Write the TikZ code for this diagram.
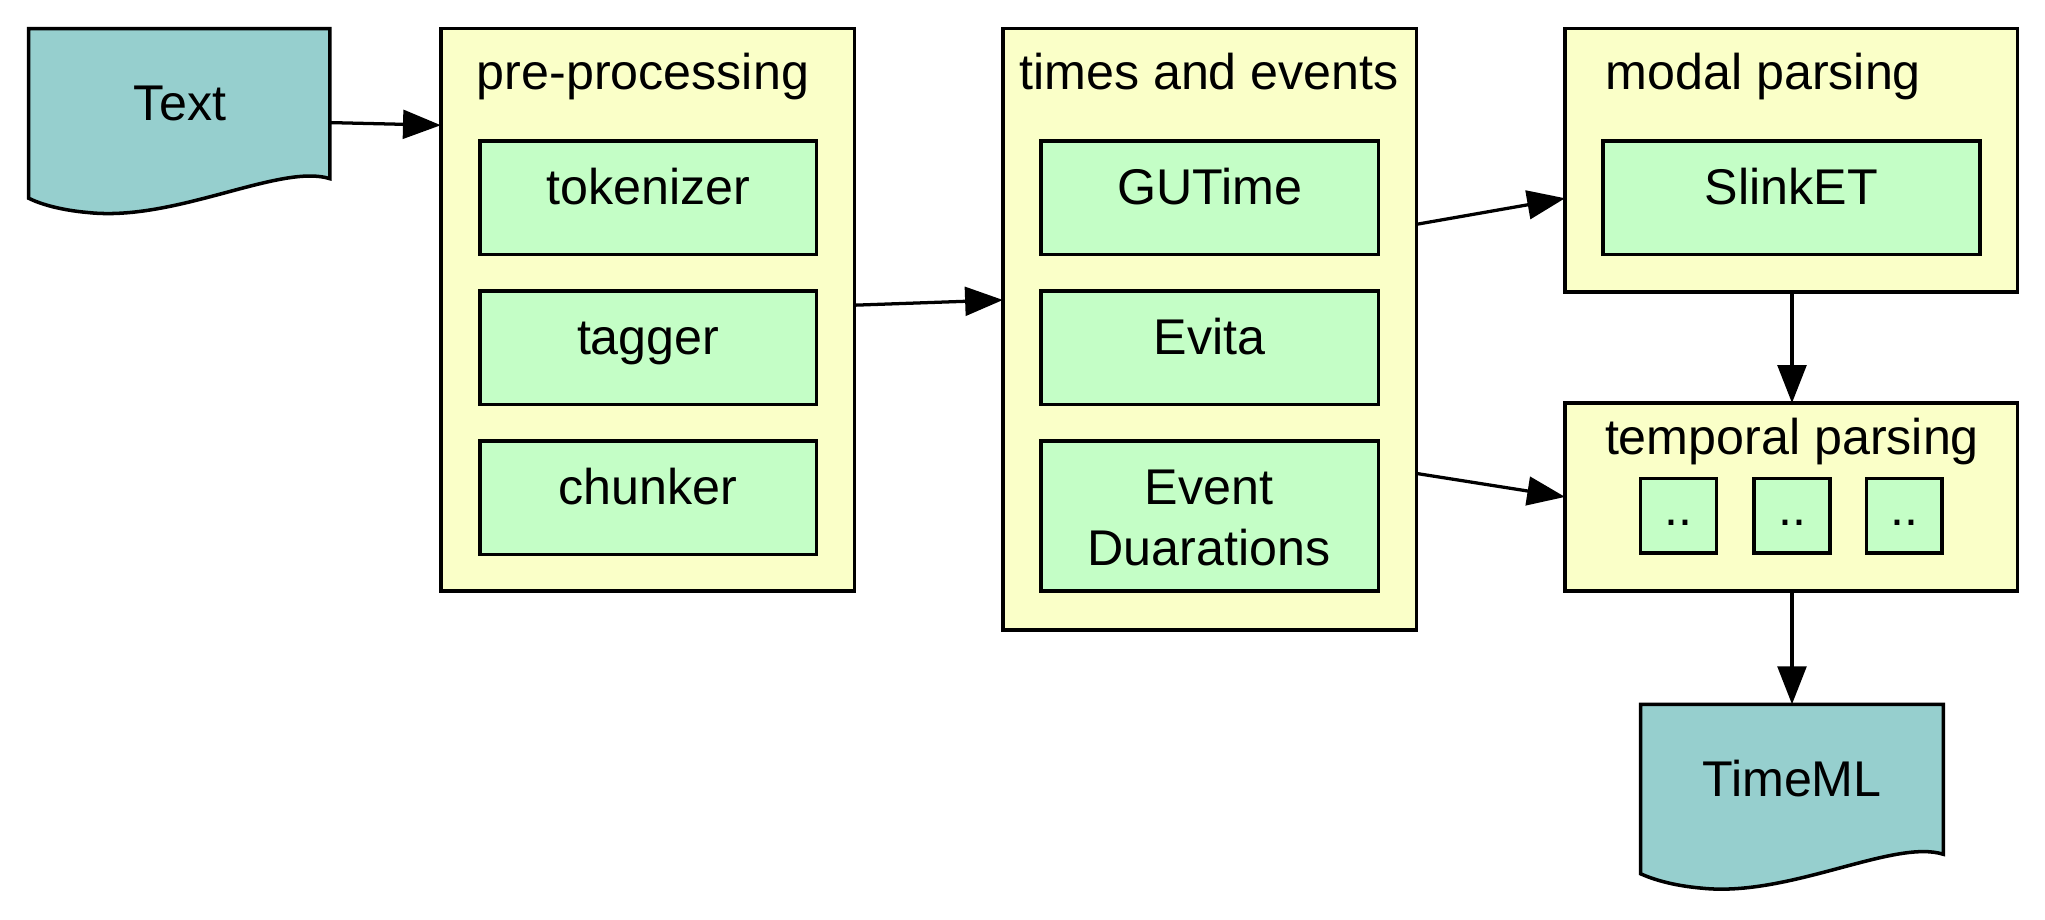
\documentclass[tikz,border=0pt]{standalone}
\usepackage{fontspec}
\setmainfont{Liberation Sans}
\usetikzlibrary{arrows.meta}
\definecolor{docfill}{HTML}{96CFCE}
\definecolor{clfill}{HTML}{FAFFC8}
\definecolor{boxfill}{HTML}{C4FEC6}
\tikzset{
  cluster/.style={draw=black, line width=2.7pt, fill=clfill, rectangle, anchor=north west, inner sep=0pt, outer sep=0pt},
  stage/.style={draw=black, line width=2.7pt, fill=boxfill, rectangle, anchor=north west, inner sep=0pt, outer sep=0pt},
  doc/.style={draw=black, line width=2.7pt, fill=docfill, line join=miter},
  lblfree/.style={inner sep=0pt, font=\fontsize{38.5}{47}\selectfont, align=center},
  lbl/.style={lblfree, text height=0.75em, text depth=0.25em},
  edge/.style={line width=2.5pt, -{Triangle[length=29pt,width=22pt]}},
}
\begin{document}
\begin{tikzpicture}[x=1pt, y=-1pt]
\useasboundingbox (0,0) rectangle (1568,705);
% Text document
\draw[doc] (22,22) -- (253,22) -- (253,137) .. controls (215,125) and (135,170) .. (68,163) .. controls (45,161) and (30,156) .. (22,152) -- cycle;
\node[inner sep=0pt, minimum width=231pt, minimum height=116pt, anchor=north west] (txt) at (22,22) {};
\node[lbl] (txtl) at (138,90) {Text};
% pre-processing
\node[cluster, minimum width=317pt, minimum height=431pt] (pre) at (338,22) {};
\node[lbl] (prel) at (493,66) {pre-processing};
\node[stage, minimum width=258pt, minimum height=87pt] (tok) at (368,108) {};
\node[lbl, yshift=-3pt] at (tok.center) {tokenizer};
\node[stage, minimum width=258pt, minimum height=87pt] (tag) at (368,223) {};
\node[lbl, yshift=-3pt] at (tag.center) {tagger};
\node[stage, minimum width=258pt, minimum height=87pt] (chu) at (368,338) {};
\node[lbl, yshift=-3pt] at (chu.center) {chunker};
% times and events
\node[cluster, minimum width=317pt, minimum height=461pt] (tae) at (769,22) {};
\node[lbl] (tael) at (927,66) {times and events};
\node[stage, minimum width=259pt, minimum height=87pt] (gut) at (798,108) {};
\node[lbl, yshift=-3pt] at (gut.center) {GUTime};
\node[stage, minimum width=259pt, minimum height=87pt] (evi) at (798,223) {};
\node[lbl, yshift=-3pt] at (evi.center) {Evita};
\node[stage, minimum width=259pt, minimum height=115pt] (evd) at (798,338) {};
\node[lblfree] at (927,397) {Event\\Duarations};
% modal parsing
\node[cluster, minimum width=347pt, minimum height=202pt] (mod) at (1200,22) {};
\node[lbl] (modl) at (1352,66) {modal parsing};
\node[stage, minimum width=289pt, minimum height=87pt] (sli) at (1229,108) {};
\node[lbl, yshift=-3pt] at (sli.center) {SlinkET};
% temporal parsing
\node[cluster, minimum width=347pt, minimum height=144pt] (tem) at (1200,309) {};
\node[lbl] (teml) at (1374,346) {temporal parsing};
\node[stage, minimum width=58pt, minimum height=57pt] (d1) at (1258,367) {};
\node[lbl, yshift=-5pt] at (d1.center) {..};
\node[stage, minimum width=58pt, minimum height=57pt] (d2) at (1345,367) {};
\node[lbl, yshift=-5pt] at (d2.center) {..};
\node[stage, minimum width=58pt, minimum height=57pt] (d3) at (1431,367) {};
\node[lbl, yshift=-5pt] at (d3.center) {..};
% TimeML document
\draw[doc] (1258,540) -- (1490,540) -- (1490,655) .. controls (1452,643) and (1372,688) .. (1305,681) .. controls (1282,679) and (1267,674) .. (1258,670) -- cycle;
\node[inner sep=0pt, minimum width=232pt, minimum height=115pt, anchor=north west] (tml) at (1258,540) {};
\node[lbl] (tmll) at (1374,608) {TimeML};
% edges
\draw[edge] (txt.east |- 0,94) -- (pre.west |- 0,96);
\draw[edge] (pre.east |- 0,234) -- (tae.west |- 0,230);
\draw[edge] (tae.east |- 0,172) -- (mod.west |- 0,152);
\draw[edge] (tae.east |- 0,363) -- (tem.west |- 0,381);
\draw[edge] (mod.south -| 1374,0) -- (tem.north -| 1374,0);
\draw[edge] (tem.south -| 1374,0) -- (tml.north -| 1374,0);
\end{tikzpicture}
\end{document}
